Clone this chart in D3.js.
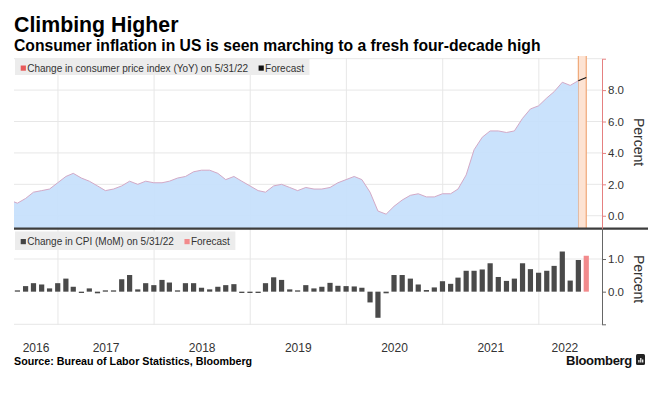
<!DOCTYPE html>
<html><head><meta charset="utf-8">
<script src="https://cdn.jsdelivr.net/npm/d3@7"></script>
<style>
html,body{margin:0;padding:0;background:#fff;}
svg{display:block;font-family:"Liberation Sans",Arial,sans-serif;}
</style></head><body>
<svg id="chart" width="664" height="399"></svg>
<script>
// ---- DATA (monthly, Jun 2016 .. May 2022) ----
const yoy2016 = [1.0, 0.8, 1.1, 1.5, 1.6, 1.7, 2.1];
const yoy2017 = [2.5, 2.7, 2.4, 2.2, 1.9, 1.6, 1.7, 1.9, 2.2, 2.0, 2.2, 2.1];
const yoy2018 = [2.1, 2.2, 2.4, 2.5, 2.8, 2.9, 2.9, 2.7, 2.3, 2.5, 2.2, 1.9];
const yoy2019 = [1.6, 1.5, 1.9, 2.0, 1.8, 1.6, 1.8, 1.7, 1.7, 1.8, 2.1, 2.3];
const yoy2020 = [2.5, 2.3, 1.5, 0.3, 0.1, 0.6, 1.0, 1.3, 1.4, 1.2, 1.2, 1.4];
const yoy2021 = [1.4, 1.7, 2.6, 4.2, 5.0, 5.4, 5.4, 5.3, 5.4, 6.2, 6.8, 7.0];
const yoy2022 = [7.5, 7.9, 8.5, 8.3, 8.6];

const mom2016 = [0.2, 0.03, 0.17, 0.26, 0.22, 0.1, 0.26];
const mom2017 = [0.4, 0.15, -0.03, 0.1, -0.05, 0.04, 0.03, 0.38, 0.51, 0.07, 0.26, 0.2];
const mom2018 = [0.36, 0.28, 0.04, 0.26, 0.26, 0.12, 0.07, 0.15, 0.2, 0.23, -0.04, -0.04];
const mom2019 = [-0.04, 0.26, 0.44, 0.36, 0.07, 0.02, 0.2, 0.1, 0.15, 0.27, 0.18, 0.17];
const mom2020 = [0.16, 0.12, -0.33, -0.8, -0.05, 0.51, 0.51, 0.4, 0.22, 0.05, 0.13, 0.32];
const mom2021 = [0.24, 0.43, 0.64, 0.64, 0.68, 0.87, 0.45, 0.33, 0.4, 0.87, 0.69, 0.58];
const mom2022 = [0.64, 0.79, 1.23, 0.34, 0.97];

const forecastMonths = ["2022-05", "2022-06"];
const yoyForecast = [8.6, 8.8];
const momForecastMonth = "2022-06";
const momForecast = [1.1];

const yearLabels = ["2016", "2017", "2018", "2019", "2020", "2021", "2022"];
const topTicks = [0, 2, 4, 6, 8, 10];
const bottomTicks = [-1, 0, 1];

const titleText = "Climbing Higher";
const subtitleText = "Consumer inflation in US is seen marching to a fresh four-decade high";
const legendTop = ["Change in consumer price index (YoY) on 5/31/22", "Forecast"];
const legendBottom = ["Change in CPI (MoM) on 5/31/22", "Forecast"];
const sourceText = "Source: Bureau of Labor Statistics, Bloomberg";

// ---- BUILD ----
const yoyAll = [].concat(yoy2016, yoy2017, yoy2018, yoy2019, yoy2020, yoy2021, yoy2022);
const momAll = [].concat(mom2016, mom2017, mom2018, mom2019, mom2020, mom2021, mom2022);
const monthStarts = d3.timeMonth.range(new Date(2016, 5, 1), new Date(2022, 5, 1));
const monthEnd = m => new Date(m.getFullYear(), m.getMonth() + 1, 0);
const parseM = d3.timeParse("%Y-%m");
const yoyData = monthStarts.map((m, i) => ({date: monthEnd(m), v: yoyAll[i]}));
const momData = monthStarts.map((m, i) => ({date: monthEnd(m), v: momAll[i]}));
const fcLine = forecastMonths.map((s, i) => ({date: monthEnd(parseM(s)), v: yoyForecast[i]}));
const fcBar = [{date: monthEnd(parseM(momForecastMonth)), v: momForecast[0]}];

const L = 14, axisX = 602;
const svg = d3.select("#chart");

const x = d3.scaleTime()
  .domain([new Date(2016, 6, 18), new Date(2022, 6, 18)])
  .range([L, 591]);
const yTop = d3.scaleLinear().domain([-0.8, 10]).range([228.3, 58.7]);
const yBot = d3.scaleLinear().domain([-1, 1.92]).range([324.3, 229]);

const gridColor = "#e7e7e7";

svg.append("defs").append("clipPath").attr("id", "plotclip")
  .append("rect").attr("x", L).attr("y", 50).attr("width", axisX - L).attr("height", 290);

// gridlines
const grid = svg.append("g");
grid.selectAll(".hgt").data(topTicks).join("line")
  .attr("x1", L).attr("x2", axisX)
  .attr("y1", d => yTop(d)).attr("y2", d => yTop(d))
  .attr("stroke", gridColor).attr("stroke-width", 1);
grid.selectAll(".hgb").data(bottomTicks.filter(d => d !== 0)).join("line")
  .attr("x1", L).attr("x2", axisX)
  .attr("y1", d => yBot(d)).attr("y2", d => yBot(d))
  .attr("stroke", gridColor).attr("stroke-width", 1);
const yearStarts = yearLabels.map(y => new Date(+y, 0, 1));
grid.selectAll(".vg").data(yearStarts.filter(d => x(d) > L)).join("line")
  .attr("x1", d => x(d)).attr("x2", d => x(d))
  .attr("y1", 58).attr("y2", 325)
  .attr("stroke", gridColor).attr("stroke-width", 1);

const plot = svg.append("g").attr("clip-path", "url(#plotclip)");

// forecast band
const bandX0 = x(fcLine[0].date), bandX1 = x(fcLine[1].date);
plot.append("rect").attr("x", bandX0).attr("y", 56).attr("width", bandX1 - bandX0)
  .attr("height", yTop.range()[0] - 56).attr("fill", "#fde3d3");
plot.selectAll(".bl").data([bandX0, bandX1]).join("line")
  .attr("x1", d => d).attr("x2", d => d).attr("y1", 56).attr("y2", yTop.range()[0])
  .attr("stroke", "#f0a878").attr("stroke-width", 1.2);

// area
const area = d3.area().x(d => x(d.date)).y0(yTop.range()[0]).y1(d => yTop(d.v));
plot.append("path").datum(yoyData).attr("d", area)
  .attr("fill", "#c6e0fc").attr("fill-opacity", 0.92);
plot.append("path").datum(yoyData)
  .attr("d", d3.line().x(d => x(d.date)).y(d => yTop(d.v)))
  .attr("fill", "none").attr("stroke", "#d3a9c6").attr("stroke-width", 1);
// forecast line
plot.append("path").datum(fcLine)
  .attr("d", d3.line().x(d => x(d.date)).y(d => yTop(d.v)))
  .attr("fill", "none").attr("stroke", "#111").attr("stroke-width", 1.2);

// bars
const bw = 5.2;
function barY(v) { const a = yBot(0), b = yBot(v); let h = Math.abs(a - b); if (h < 1.3) h = 1.3; return v >= 0 ? {y: a - h, h} : {y: a, h}; }
plot.selectAll(".bar").data(momData).join("rect")
  .attr("x", d => x(d.date) - bw / 2).attr("width", bw)
  .attr("y", d => barY(d.v).y).attr("height", d => barY(d.v).h)
  .attr("fill", "#4a4a4a");
plot.selectAll(".fbar").data(fcBar).join("rect")
  .attr("x", d => x(d.date) - bw / 2).attr("width", bw)
  .attr("y", d => barY(d.v).y).attr("height", d => barY(d.v).h)
  .attr("fill", "#f28a8c");

// separator
svg.append("line").attr("x1", L).attr("x2", 648).attr("y1", 228.6).attr("y2", 228.6)
  .attr("stroke", "#3d3d3d").attr("stroke-width", 2.4);

// right axes
const axTop = svg.append("g").attr("transform", `translate(${axisX},0)`)
  .call(d3.axisRight(yTop).tickValues(topTicks).tickSize(4).tickSizeOuter(0).tickPadding(2)
    .tickFormat(d => d === 10 ? "" : d3.format(".1f")(d)));
axTop.select(".domain").attr("stroke", "#e58080");
axTop.selectAll(".tick line").attr("stroke", "#e58080");
axTop.selectAll("text").attr("fill", "#333").attr("font-size", 11.5)
  .attr("font-family", "Liberation Sans, Arial, sans-serif");

const axBot = svg.append("g").attr("transform", `translate(${axisX},0)`)
  .call(d3.axisRight(yBot).tickValues(bottomTicks).tickSize(4).tickSizeOuter(0).tickPadding(2)
    .tickFormat(d => d === -1 ? "" : d3.format(".1f")(d)));
axBot.select(".domain").attr("stroke", "#666");
axBot.selectAll(".tick line").attr("stroke", "#666");
axBot.selectAll("text").attr("fill", "#333").attr("font-size", 11.5)
  .attr("font-family", "Liberation Sans, Arial, sans-serif");

[[638.5, 142], [638.5, 279]].forEach(p => {
  svg.append("text").attr("transform", `translate(${p[0]},${p[1]}) rotate(90)`)
    .attr("text-anchor", "middle").attr("dominant-baseline", "central")
    .attr("font-size", 14).attr("fill", "#333").text("Percent");
});

// year labels
const xEnd = x.range()[1];
svg.selectAll(".yl").data(yearLabels).join("text")
  .attr("x", d => {
    const a = Math.max(x(new Date(+d, 0, 1)), L);
    const b = Math.min(x(new Date(+d + 1, 0, 1)), xEnd);
    return (a + b) / 2;
  })
  .attr("y", 352).attr("text-anchor", "middle")
  .attr("font-size", 12).attr("fill", "#333").text(d => d);

// legends
function legend(y0, h, items, colors, baseY) {
  const g = svg.append("g");
  const box = g.append("rect").attr("x", 15).attr("y", y0).attr("height", h).attr("fill", "#ececec");
  let cx = 20.7;
  items.forEach((t, i) => {
    g.append("rect").attr("x", cx).attr("y", baseY - 6).attr("width", 5.2).attr("height", 5.2).attr("fill", colors[i]);
    const tx = g.append("text").attr("x", cx + 6.5).attr("y", baseY).attr("font-size", 10)
      .attr("fill", "#333").text(t);
    cx = cx + 6.5 + tx.node().getComputedTextLength() + 10.5;
  });
  box.attr("width", cx - 15 - 5);
}
legend(58, 17, legendTop, ["#e85a5a", "#111"], 71.5);
legend(231.5, 18.5, legendBottom, ["#444", "#f28a8c"], 245);

// titles
svg.append("text").attr("x", 14).attr("y", 32).attr("font-size", 21.3).attr("font-weight", "bold")
  .attr("fill", "#000").text(titleText);
svg.append("text").attr("x", 14).attr("y", 51).attr("font-size", 15.7).attr("font-weight", "bold")
  .attr("fill", "#000").text(subtitleText);
svg.append("text").attr("x", 14).attr("y", 365).attr("font-size", 10.7).attr("font-weight", "bold")
  .attr("fill", "#000").text(sourceText);

// Bloomberg mark
svg.append("text").attr("x", 632).attr("y", 365).attr("text-anchor", "end")
  .attr("font-size", 13).attr("font-weight", "bold").attr("fill", "#111")
  .attr("letter-spacing", -0.3).text("Bloomberg");
svg.append("rect").attr("x", 636).attr("y", 354).attr("width", 9).attr("height", 11).attr("rx", 1.5).attr("fill", "#222");
[[638.3, 360, 2.5], [640.2, 358, 4.5], [642.1, 359.5, 3]].forEach(b => {
  svg.append("rect").attr("x", b[0]).attr("y", b[1]).attr("width", 1.2).attr("height", b[2]).attr("fill", "#fff");
});
</script>
</body></html>
